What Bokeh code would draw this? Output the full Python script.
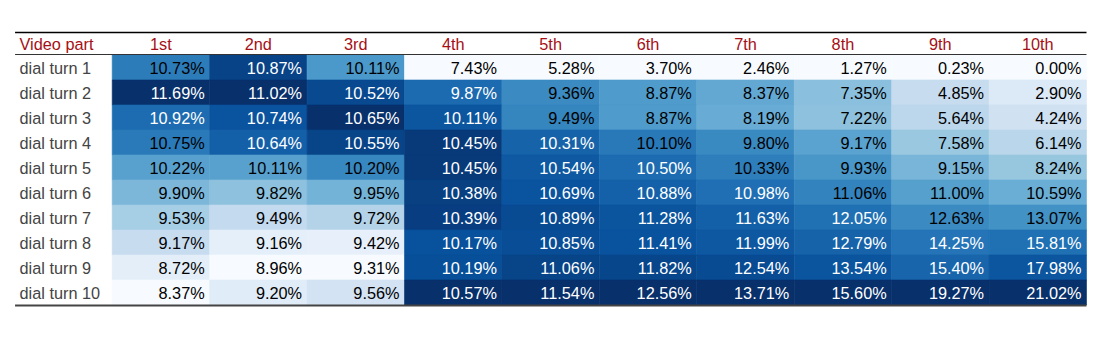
from bokeh.plotting import figure
from bokeh.models import Range1d, ColumnDataSource
from bokeh.transform import linear_cmap
from bokeh.palettes import Blues256
from bokeh.core.properties import value
from bokeh.embed import file_html
from bokeh.resources import INLINE

header_label = "Video part"
columns = ["1st", "2nd", "3rd", "4th", "5th", "6th", "7th", "8th", "9th", "10th"]
rows = ["dial turn 1", "dial turn 2", "dial turn 3", "dial turn 4", "dial turn 5",
        "dial turn 6", "dial turn 7", "dial turn 8", "dial turn 9", "dial turn 10"]

turn1 = [10.73, 10.87, 10.11, 7.43, 5.28, 3.70, 2.46, 1.27, 0.23, 0.00]
turn2 = [11.69, 11.02, 10.52, 9.87, 9.36, 8.87, 8.37, 7.35, 4.85, 2.90]
turn3 = [10.92, 10.74, 10.65, 10.11, 9.49, 8.87, 8.19, 7.22, 5.64, 4.24]
turn4 = [10.75, 10.64, 10.55, 10.45, 10.31, 10.10, 9.80, 9.17, 7.58, 6.14]
turn5 = [10.22, 10.11, 10.20, 10.45, 10.54, 10.50, 10.33, 9.93, 9.15, 8.24]
turn6 = [9.90, 9.82, 9.95, 10.38, 10.69, 10.88, 10.98, 11.06, 11.00, 10.59]
turn7 = [9.53, 9.49, 9.72, 10.39, 10.89, 11.28, 11.63, 12.05, 12.63, 13.07]
turn8 = [9.17, 9.16, 9.42, 10.17, 10.85, 11.41, 11.99, 12.79, 14.25, 15.81]
turn9 = [8.72, 8.96, 9.31, 10.19, 11.06, 11.82, 12.54, 13.54, 15.40, 17.98]
turn10 = [8.37, 9.20, 9.56, 10.57, 11.54, 12.56, 13.71, 15.60, 19.27, 21.02]

table = [turn1, turn2, turn3, turn4, turn5, turn6, turn7, turn8, turn9, turn10]

FONT = value("Liberation Sans")
FS = "16.3px"
HEADER_COLOR = "#a50f15"
LABEL_COLOR = "#444444"

# per-column normalisation for the colour scale
col_min = [min(r[j] for r in table) for j in range(len(columns))]
col_max = [max(r[j] for r in table) for j in range(len(columns))]

xs, ys, norms, labels, tcols = [], [], [], [], []
for i, r in enumerate(table):
    for j, v in enumerate(r):
        n = (v - col_min[j]) / (col_max[j] - col_min[j])
        xs.append(j)
        ys.append(i)
        norms.append(n)
        labels.append(f"{v:.2f}%")
        tcols.append("white" if n > 0.73 else "black")

src = ColumnDataSource(dict(
    left=xs, right=[x + 1 for x in xs], top=ys, bottom=[y + 1 for y in ys],
    tx=[x + 0.949 for x in xs], ty=[y + 0.5 for y in ys],
    norm=norms, label=labels, tcol=tcols,
))

p = figure(width=1092, height=331,
           x_range=Range1d(-1.1465, 10.0616), y_range=Range1d(11.06, -2.18),
           min_border=0, toolbar_location=None, output_backend="svg")
p.axis.visible = False
p.grid.visible = False
p.outline_line_color = None
p.background_fill_color = "white"
p.border_fill_color = "white"

cmap = linear_cmap("norm", tuple(reversed(Blues256)), 0, 1)
p.quad(left="left", right="right", top="top", bottom="bottom", source=src,
       fill_color=cmap, line_color=cmap, line_width=0.6)

p.text(x="tx", y="ty", text="label", source=src, text_color="tcol",
       text_align="right", text_baseline="middle", text_font=FONT, text_font_size=FS)

# row labels
p.text(x=[-0.951] * len(rows), y=[i + 0.5 for i in range(len(rows))], text=rows,
       text_color=LABEL_COLOR, text_align="left", text_baseline="middle",
       text_font=FONT, text_font_size=FS)

# header
p.text(x=[-0.951], y=[-0.45], text=[header_label], text_color=HEADER_COLOR,
       text_align="left", text_baseline="middle", text_font=FONT, text_font_size=FS)
p.text(x=[j + 0.5 for j in range(len(columns))], y=[-0.45] * len(columns), text=columns,
       text_color=HEADER_COLOR, text_align="center", text_baseline="middle",
       text_font=FONT, text_font_size=FS)

# rules
p.segment(x0=[-0.997], y0=[-0.9], x1=[10.0], y1=[-0.9], line_color="black", line_width=1.3)
p.segment(x0=[-0.997], y0=[-0.02], x1=[10.0], y1=[-0.02], line_color="#333333", line_width=1)
p.segment(x0=[-0.997], y0=[10.02], x1=[10.0], y1=[10.02], line_color="#444444", line_width=2)

open("out.html", "w").write(file_html(p, INLINE))
